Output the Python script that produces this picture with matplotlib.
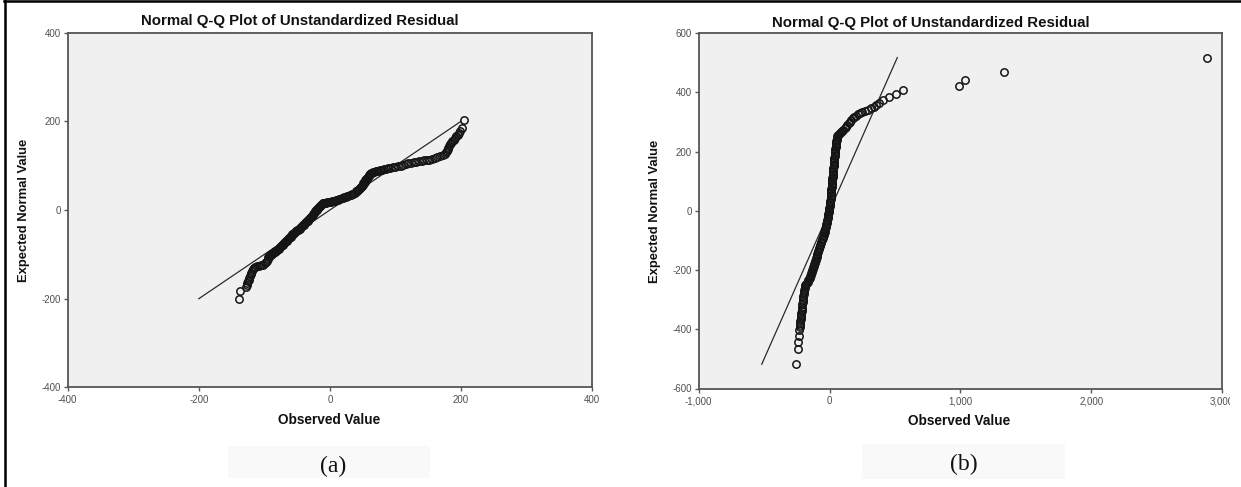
import matplotlib
matplotlib.use("Agg")
import matplotlib.pyplot as plt
from matplotlib.lines import Line2D
from matplotlib.patches import Rectangle
from matplotlib.transforms import Bbox, TransformedBbox

# ---------------- data ----------------
title_text = "Normal Q-Q Plot of Unstandardized Residual"
xlabel_text = "Observed Value"
ylabel_text = "Expected Normal Value"
captions = ["(a)", "(b)"]

# panel (a): (observed value, expected normal value)
a_points = [
    (-139, -201), (-137, -183), (-128, -173), (-127, -169), (-126, -165), (-125, -161),
    (-124, -157), (-123, -153), (-122, -149), (-121, -145), (-120, -141), (-119, -137),
    (-118, -134), (-116, -131), (-114, -129), (-111, -127), (-108, -126), (-105, -125),
    (-102, -123), (-99, -120), (-97, -117), (-96, -114), (-95, -110), (-94, -107),
    (-93, -104), (-92, -103), (-91, -101), (-90, -100), (-89, -99), (-88, -98), (-87, -97),
    (-86, -96), (-85, -95), (-84, -94), (-83, -93), (-82, -92), (-81, -90), (-80, -89),
    (-79, -88), (-78, -87), (-77, -85), (-76, -84), (-75, -82), (-74, -81), (-73, -79),
    (-72, -78), (-71, -76), (-70, -75), (-69, -73), (-68, -72), (-67, -70), (-66, -69),
    (-65, -67), (-64, -66), (-63, -64), (-62, -63), (-61, -61), (-60, -60), (-59, -58),
    (-58, -57), (-57, -55), (-56, -54), (-55, -52), (-54, -51), (-53, -49), (-52, -48),
    (-51, -47), (-50, -46), (-49, -45), (-48, -44), (-47, -43), (-46, -42), (-45, -40),
    (-44, -39), (-43, -37), (-42, -36), (-41, -34), (-40, -33), (-39, -31), (-38, -30),
    (-37, -28), (-36, -27), (-35, -25), (-34, -24), (-33, -22), (-32, -21), (-31, -19),
    (-30, -18), (-29, -16), (-28, -15), (-27, -13), (-26, -11), (-25, -9), (-24, -7),
    (-23, -5), (-22, -3), (-21, -1), (-20, 0), (-19, 2), (-18, 4), (-17, 6), (-16, 8),
    (-15, 9), (-14, 11), (-13, 12), (-12, 14), (-11, 15), (-10, 16),
    (-8, 17), (-6, 17), (-4, 18), (-2, 18), (0, 18), (2, 19), (4, 20), (6, 20), (8, 21),
    (10, 22), (12, 23), (14, 24), (16, 25), (18, 27), (20, 28), (22, 29), (24, 30),
    (26, 31), (28, 32), (30, 34), (32, 35), (34, 36), (36, 37), (38, 39), (40, 42),
    (41, 43), (42, 44), (43, 46), (44, 47), (45, 48), (46, 50), (47, 51), (48, 53),
    (49, 55), (50, 57), (51, 60), (52, 62), (53, 64), (54, 67), (55, 69), (56, 71),
    (57, 73), (58, 75), (59, 77), (60, 79), (61, 81), (62, 82), (63, 83), (64, 84),
    (66, 85), (68, 86), (70, 87), (72, 88), (74, 89), (76, 90), (78, 91), (80, 91),
    (83, 92), (86, 93), (89, 94), (92, 95), (96, 96), (100, 98), (104, 99), (108, 100),
    (112, 102), (116, 103), (120, 105), (124, 106), (128, 108), (132, 109), (136, 111),
    (140, 111), (144, 112), (148, 113), (152, 114), (156, 115), (160, 117), (164, 119),
    (168, 121), (172, 124), (175, 127), (177, 130), (179, 134), (180, 138), (181, 141),
    (182, 144), (184, 148), (185, 151), (187, 155), (189, 158), (191, 162), (193, 166),
    (195, 170), (197, 174), (199, 178), (201, 184), (204, 203),
]
a_line = [-200, 200]

# panel (b): (observed value, expected normal value)
b_points = [
    (-256, -517), (-243, -468), (-243, -444), (-237, -423), (-232, -403), (-229, -393),
    (-227, -386), (-225, -379), (-223, -372), (-221, -365), (-219, -358), (-217, -351),
    (-215, -344), (-213, -337), (-211, -330), (-209, -323), (-207, -316), (-205, -309),
    (-203, -302), (-201, -295), (-199, -288), (-197, -281), (-195, -274), (-193, -267),
    (-191, -260), (-189, -254), (-186, -249), (-181, -246), (-175, -243), (-168, -239),
    (-161, -235), (-155, -230), (-150, -226),
    (-147, -220), (-143, -215), (-139, -210), (-136, -205), (-132, -200), (-128, -195),
    (-124, -190), (-120, -185), (-116, -180), (-112, -175), (-109, -170), (-105, -165),
    (-102, -160), (-98, -155), (-95, -150), (-92, -145), (-88, -140), (-85, -135),
    (-81, -130), (-78, -125), (-74, -120), (-70, -115), (-66, -110), (-62, -105),
    (-58, -100), (-54, -95), (-51, -90), (-47, -85), (-44, -80), (-40, -75), (-37, -70),
    (-35, -65), (-32, -60), (-30, -55), (-27, -50), (-24, -45), (-22, -40), (-19, -35),
    (-17, -30), (-14, -25), (-12, -20), (-10, -15), (-8, -10), (-6, -5), (-4, 0),
    (-2, 5), (-1, 10), (1, 15), (3, 20), (4, 25), (5, 30), (6, 35), (8, 40), (9, 45),
    (10, 50), (11, 55), (12, 60), (13, 65), (14, 70), (15, 75), (16, 80), (17, 85),
    (18, 90), (19, 95), (20, 100), (21, 105), (22, 110), (23, 115), (24, 120), (26, 125),
    (27, 130), (28, 135), (29, 140), (30, 145), (31, 150), (32, 155), (33, 160),
    (34, 165), (36, 170), (37, 175), (38, 180), (39, 185), (40, 190), (42, 195),
    (43, 200), (44, 205), (45, 210), (46, 215), (48, 220), (49, 225), (51, 230),
    (52, 235), (54, 240), (56, 246),
    (60, 252), (64, 257), (70, 261), (78, 264), (86, 267), (96, 270), (106, 274),
    (116, 279), (126, 284), (136, 290), (146, 296), (156, 302), (166, 308), (176, 313),
    (188, 318), (200, 322), (215, 326), (232, 330), (250, 334), (270, 338), (292, 342),
    (315, 346), (338, 351), (358, 357), (378, 365), (405, 374), (455, 385), (505, 396),
    (565, 408), (990, 422), (1035, 441), (1332, 468), (2882, 516),
]
b_line = [-518, 518]

a_xticks = [-400, -200, 0, 200, 400]
a_xticklabels = ["-400", "-200", "0", "200", "400"]
a_yticks = [-400, -200, 0, 200, 400]
a_yticklabels = ["-400", "-200", "0", "200", "400"]
b_xticks = [-1000, 0, 1000, 2000, 3000]
b_xticklabels = ["-1,000", "0", "1,000", "2,000", "3,000"]
b_yticks = [-600, -400, -200, 0, 200, 400, 600]
b_yticklabels = ["-600", "-400", "-200", "0", "200", "400", "600"]

# ---------------- figure ----------------
W, H = 1241, 487
fig = plt.figure(figsize=(W / 100, H / 100), dpi=100)
fig.patch.set_facecolor("white")

def fx(px):
    return px / W

def fy(py):
    return 1 - py / H

SANS = ["Liberation Sans", "DejaVu Sans"]
SERIF = ["Liberation Serif", "DejaVu Serif"]
FRAME = "#555555"
TICKC = "#5a5a5a"

panels = [
    dict(rect=(67.7, 32.7, 592.0, 387.4), pts=a_points, line=a_line,
         xlim=(-400, 400), ylim=(-400, 400),
         xt=a_xticks, xtl=a_xticklabels, yt=a_yticks, ytl=a_yticklabels,
         title_x=300, title_y=21, ylab_x=24.5, ylab_y=210, xlab_x=329, xlab_y=420,
         cap_x=333, cap_y=466, box=(228, 446, 430, 478), clip_x=598.5, cap=captions[0]),
    dict(rect=(698.7, 33.3, 1222.0, 388.5), pts=b_points, line=b_line,
         xlim=(-1000, 3000), ylim=(-600, 600),
         xt=b_xticks, xtl=b_xticklabels, yt=b_yticks, ytl=b_yticklabels,
         title_x=931, title_y=22.5, ylab_x=655, ylab_y=211, xlab_x=959.5, xlab_y=421,
         cap_x=964, cap_y=464, box=(862, 444, 1065, 479), clip_x=1229.5, cap=captions[1]),
]

for p in panels:
    x0, y0, x1, y1 = p["box"]
    fig.patches.append(Rectangle((fx(x0), fy(y1)), fx(x1) - fx(x0), fy(y0) - fy(y1),
                                 transform=fig.transFigure, facecolor="#f9f9f9",
                                 edgecolor="none", zorder=0))

    l, t, r, b = p["rect"]
    ax = fig.add_axes([fx(l), fy(b), fx(r) - fx(l), fy(t) - fy(b)])
    ax.set_facecolor("#f0f0f0")
    ax.set_xlim(*p["xlim"])
    ax.set_ylim(*p["ylim"])
    for s in ax.spines.values():
        s.set_color(FRAME)
        s.set_linewidth(1.3)

    obs = [q[0] for q in p["pts"]]
    exp = [q[1] for q in p["pts"]]
    ax.plot(p["line"], p["line"], color="#2a2a2a", lw=0.9, zorder=2)
    ax.plot(obs, exp, linestyle="none", marker="o", markersize=5.3,
            markerfacecolor="none", markeredgecolor="#151515", markeredgewidth=1.1,
            zorder=3, clip_on=False)

    ax.set_xticks(p["xt"])
    ax.set_xticklabels(p["xtl"])
    ax.set_yticks(p["yt"])
    ax.set_yticklabels(p["ytl"])
    ax.tick_params(axis="both", direction="out", length=3.2, width=1.0, color=TICKC,
                   labelsize=7, labelcolor="#505050", pad=1.5)
    ax.tick_params(axis="x", pad=2.5)
    for lab in ax.get_xticklabels() + ax.get_yticklabels():
        lab.set_fontfamily(SANS)

    # clip the last x tick label like the original export
    ticks = ax.xaxis.get_major_ticks()
    clipbb = TransformedBbox(Bbox.from_extents(0, 0, fx(p["clip_x"]), 1), fig.transFigure)
    ticks[-1].label1.set_clip_box(clipbb)
    ticks[-1].label1.set_clip_on(True)

    fig.text(fx(p["title_x"]), fy(p["title_y"]), title_text, ha="center", va="center",
             fontsize=10.8, fontweight="bold", family=SANS, color="#111111")
    fig.text(fx(p["ylab_x"]), fy(p["ylab_y"]), ylabel_text, ha="center", va="center",
             rotation=90, fontsize=9.4, fontweight="bold", family=SANS, color="#111111")
    fig.text(fx(p["xlab_x"]), fy(p["xlab_y"]), xlabel_text, ha="center", va="center",
             fontsize=9.8, fontweight="bold", family=SANS, color="#111111")
    fig.text(fx(p["cap_x"]), fy(p["cap_y"]), p["cap"], ha="center", va="center",
             fontsize=17, family=SERIF, color="#111111")

# outer frame (left and top edges)
fig.lines.append(Line2D([fx(5.3), fx(5.3)], [0, 1], transform=fig.transFigure,
                        color="black", lw=1.8))
fig.lines.append(Line2D([fx(4.4), 1], [fy(1.2), fy(1.2)], transform=fig.transFigure,
                        color="black", lw=1.8))

fig.savefig("out.png", dpi=100, facecolor="white")
